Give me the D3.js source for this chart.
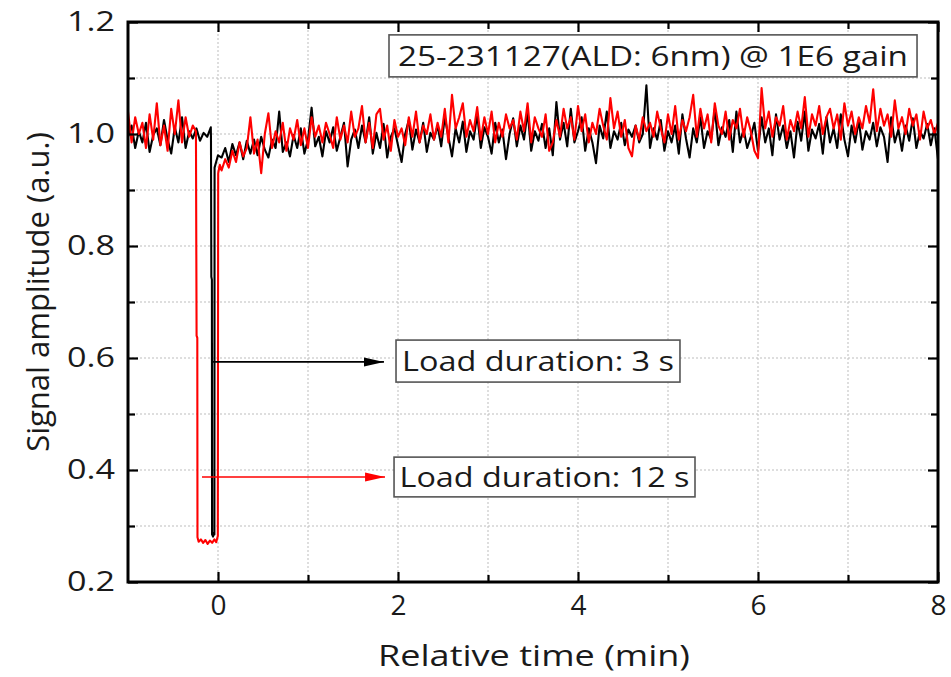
<!DOCTYPE html>
<html><head><meta charset="utf-8">
<script src="https://cdn.jsdelivr.net/npm/d3@7"></script>
<style>body{margin:0;background:#fff}</style></head>
<body><svg id="c" width="951" height="677"></svg>
<script>
// ---- data ----
const sampleStep = 0.04;          // min between plotted samples
const preStart = -1.0;            // first sample time of the pre-load traces
const postStart = 0.04;           // first sample time after the load

const blackPre = [0.995,1.015,0.975,1.005,0.985,1.020,0.968,0.998,1.010,0.980,1.025,0.990,
  0.965,1.012,0.985,1.030,0.975,1.005,0.992,1.010,0.988,1.002,0.995,1.012];
const blackDip = [[-0.078,0.990],[-0.074,0.745],[-0.068,0.740],[-0.066,0.285],[-0.055,0.281],
  [-0.045,0.288],[-0.040,0.285],[-0.038,0.940],[0.0,0.962]];
const blackPost = [
  0.958,0.975,0.950,0.982,0.962,0.985,0.955,0.988,0.965,0.990,
  0.962,0.995,0.972,0.958,0.990,0.975,1.040,0.968,0.985,0.960,
  0.998,0.975,1.010,0.965,0.990,1.047,0.978,0.995,0.960,1.005,
  0.985,1.012,0.970,0.995,1.020,0.942,0.990,1.008,0.975,1.015,
  0.985,1.030,0.965,1.002,0.975,1.018,0.958,0.995,1.010,0.980,
  0.950,1.000,1.025,0.972,1.008,0.985,1.020,0.968,1.002,0.990,
  1.015,0.978,1.030,0.995,0.960,1.010,0.985,1.022,0.968,1.005,
  0.990,1.035,0.975,1.012,0.995,0.965,1.020,0.985,1.008,0.955,
  1.000,1.028,0.978,1.015,0.990,1.040,0.970,1.005,0.988,1.018,
  0.975,1.010,0.962,1.057,0.990,1.020,0.978,1.045,0.985,1.005,
  1.030,0.970,1.010,0.985,0.948,1.015,0.992,1.040,0.975,1.005,
  0.990,1.020,0.980,1.008,0.995,1.015,0.985,1.000,1.087,0.975,
  1.010,0.990,1.025,0.970,1.005,0.985,1.015,0.965,1.035,0.992,
  0.958,1.010,0.985,1.030,0.975,1.005,0.990,1.045,0.980,1.012,
  0.995,1.025,0.968,1.040,0.985,1.008,0.975,0.995,1.020,0.970,
  1.030,0.985,1.010,0.962,1.035,0.990,1.015,0.975,1.005,0.958,
  1.022,0.988,1.040,0.970,1.008,0.992,1.018,0.965,1.030,0.985,
  1.010,0.975,1.035,0.990,0.960,1.015,0.985,1.025,0.972,1.005,
  0.990,1.020,0.978,1.012,0.995,0.950,1.030,0.985,1.008,0.970,
  1.015,0.988,1.028,0.975,1.005,0.992,1.018,0.980,1.010,0.955];

const redPre = [1.040,0.985,1.030,1.000,1.020,0.975,1.035,0.990,1.055,0.980,1.015,0.970,
  1.045,1.000,1.060,0.985,1.030,0.995,1.015];
const redDip = [[-0.245,1.005],[-0.238,0.640],[-0.230,0.636],[-0.228,0.280],[-0.215,0.272],
  [-0.190,0.276],[-0.165,0.270],[-0.140,0.275],[-0.115,0.268],[-0.090,0.274],[-0.065,0.270],
  [-0.040,0.276],[-0.020,0.271],[-0.002,0.282],[0.002,0.930],[0.020,0.945]];
const redPost = [
  0.935,0.955,0.940,0.970,0.950,0.985,0.960,0.975,1.030,0.965,
  0.990,0.930,1.000,1.037,0.975,1.005,0.985,1.020,0.970,1.010,
  0.990,1.025,0.980,1.010,0.975,1.030,0.995,1.015,0.985,1.020,
  1.000,0.975,1.030,0.990,1.015,0.985,1.040,0.995,1.010,1.050,
  0.985,1.020,0.975,1.035,1.045,0.990,1.015,0.970,1.025,0.995,
  1.010,0.980,1.030,0.995,1.040,0.985,1.015,1.000,1.035,0.990,
  1.020,0.995,1.045,0.985,1.070,1.010,1.030,1.055,0.995,1.025,
  1.005,1.048,0.990,1.030,1.000,1.040,0.985,1.020,0.995,1.035,
  1.010,1.025,0.990,1.040,1.005,1.055,0.985,1.030,1.010,0.995,
  1.035,0.970,0.985,1.025,0.995,1.045,1.010,1.030,0.990,1.050,
  1.005,1.035,0.985,1.020,1.000,1.045,1.015,0.990,1.064,1.010,
  1.040,0.995,1.025,0.975,0.960,1.015,0.990,1.030,1.005,1.020,
  0.995,1.040,1.010,0.985,1.035,1.000,1.050,0.990,1.025,1.005,
  1.030,1.070,0.995,1.045,1.010,1.035,0.985,1.055,1.015,1.000,
  1.040,0.990,1.025,1.010,1.045,0.995,1.030,1.005,0.970,0.957,
  1.082,1.010,1.040,0.995,1.030,1.015,1.050,0.990,1.025,1.005,
  1.040,1.010,1.066,0.995,1.035,1.015,1.050,1.000,1.030,1.045,
  1.010,1.035,0.990,1.055,1.015,1.040,1.000,1.030,1.010,1.050,
  1.020,1.080,1.005,1.045,1.015,1.035,0.995,1.060,1.010,1.030,
  1.000,1.045,1.015,1.035,0.990,1.040,1.010,1.025,1.000,1.020];

const xMajorTicks = [0,2,4,6,8];
const xMinorTicks = [1,3,5,7];
const yMajorTicks = [0.2,0.4,0.6,0.8,1.0,1.2];
const yMinorTicks = [0.3,0.5,0.7,0.9,1.1];
const xGridValues = [0,1,2,3,4,5,6,7];
const yGridValues = [0.3,0.4,0.5,0.6,0.7,0.8,0.9,1.0,1.1];

const titleText = "25-231127(ALD: 6nm) @ 1E6 gain";
const label3s = "Load duration: 3 s";
const label12s = "Load duration: 12 s";
const xTitle = "Relative time (min)";
const yTitle = "Signal amplitude (a.u.)";

// annotation anchors in data units: [x0, x1, yTop, yBottom]
const boxTitle = [1.90, 7.767, 1.177, 1.102];
const box3s = [1.978, 5.133, 0.632, 0.557];
const box12s = [1.956, 5.30, 0.423, 0.352];
const arrow3s = [[-0.056, 0.593],[1.844, 0.593]];
const arrow12s = [[-0.178, 0.3875],[1.856, 0.3875]];

// ---- build series ----
function series(pre, dip, post){
  const out = [];
  pre.forEach((v,i)=>out.push([preStart + i*sampleStep, v]));
  dip.forEach(d=>out.push(d));
  post.forEach((v,i)=>out.push([postStart + i*sampleStep, v]));
  return out;
}
const black = series(blackPre, blackDip, blackPost);
const red = series(redPre, redDip, redPost);

// ---- chart ----
const svg = d3.select("#c");
const L=128, R=938, T=22, B=582;
const x = d3.scaleLinear().domain([-1,8]).range([L,R]);
const y = d3.scaleLinear().domain([0.2,1.2]).range([B,T]);
const font = "'Open Sans', 'Liberation Sans', sans-serif";

// grid
const grid = svg.append("g").attr("stroke","#bdbdbd").attr("stroke-width",1).attr("stroke-dasharray","2,2");
grid.selectAll(".gx").data(xGridValues).join("line")
  .attr("x1",d=>x(d)).attr("x2",d=>x(d)).attr("y1",T).attr("y2",B);
grid.selectAll(".gy").data(yGridValues).join("line")
  .attr("x1",L).attr("x2",R).attr("y1",d=>y(d)).attr("y2",d=>y(d));

// traces
svg.append("defs").append("clipPath").attr("id","clip")
  .append("rect").attr("x",L).attr("y",T).attr("width",R-L).attr("height",B-T);
const line = d3.line().x(d=>x(d[0])).y(d=>y(d[1]));
const traces = svg.append("g").attr("clip-path","url(#clip)");
traces.append("path").datum(black).attr("d",line).attr("fill","none")
  .attr("stroke","#000").attr("stroke-width",2.1).attr("stroke-linejoin","round");
traces.append("path").datum(red).attr("d",line).attr("fill","none")
  .attr("stroke","#ff0000").attr("stroke-width",2.1).attr("stroke-linejoin","round");

// axes
function styleAxis(g){ g.select(".domain").remove(); g.selectAll("line").attr("stroke","#000").attr("stroke-width",2.2); }
svg.append("g").attr("transform",`translate(0,${B})`)
  .call(d3.axisBottom(x).tickValues(xMajorTicks).tickSizeInner(-10).tickSizeOuter(0).tickPadding(13).tickFormat(d3.format("d")))
  .call(styleAxis)
  .call(g=>g.selectAll("text").attr("font-family",font).attr("font-size",28).attr("fill","#1a1a1a"));
svg.append("g").attr("transform",`translate(0,${B})`)
  .call(d3.axisBottom(x).tickValues(xMinorTicks).tickSizeInner(-7).tickSizeOuter(0).tickFormat(""))
  .call(styleAxis);
svg.append("g").attr("transform",`translate(0,${T})`)
  .call(d3.axisTop(x).tickValues(xMajorTicks).tickSizeInner(-10).tickSizeOuter(0).tickFormat(""))
  .call(styleAxis);
svg.append("g").attr("transform",`translate(0,${T})`)
  .call(d3.axisTop(x).tickValues(xMinorTicks).tickSizeInner(-7).tickSizeOuter(0).tickFormat(""))
  .call(styleAxis);
svg.append("g").attr("transform",`translate(${L},0)`)
  .call(d3.axisLeft(y).tickValues(yMajorTicks).tickSizeInner(-10).tickSizeOuter(0).tickPadding(13).tickFormat(d3.format(".1f")))
  .call(styleAxis)
  .call(g=>g.selectAll("text").attr("font-family",font).attr("font-size",28).attr("fill","#1a1a1a")
     .attr("textLength",48).attr("lengthAdjust","spacingAndGlyphs"));
svg.append("g").attr("transform",`translate(${L},0)`)
  .call(d3.axisLeft(y).tickValues(yMinorTicks).tickSizeInner(-7).tickSizeOuter(0).tickFormat(""))
  .call(styleAxis);
svg.append("g").attr("transform",`translate(${R},0)`)
  .call(d3.axisRight(y).tickValues(yMajorTicks).tickSizeInner(-10).tickSizeOuter(0).tickFormat(""))
  .call(styleAxis);
svg.append("g").attr("transform",`translate(${R},0)`)
  .call(d3.axisRight(y).tickValues(yMinorTicks).tickSizeInner(-7).tickSizeOuter(0).tickFormat(""))
  .call(styleAxis);

// frame
svg.append("rect").attr("x",L).attr("y",T).attr("width",R-L).attr("height",B-T)
  .attr("fill","none").attr("stroke","#000").attr("stroke-width",3);

// axis titles
svg.append("text").attr("x",534).attr("y",666).attr("text-anchor","middle")
  .attr("font-family",font).attr("font-size",29).attr("fill","#1a1a1a")
  .attr("textLength",312).attr("lengthAdjust","spacingAndGlyphs").text(xTitle);
svg.append("text").attr("transform",`translate(49,${292}) rotate(-90)`).attr("text-anchor","middle")
  .attr("font-family",font).attr("font-size",31).attr("fill","#1a1a1a").text(yTitle);

// annotation boxes
function box(b, txt, tlen){
  const g = svg.append("g");
  g.append("rect").attr("x",x(b[0])).attr("y",y(b[2])).attr("width",x(b[1])-x(b[0])).attr("height",y(b[3])-y(b[2]))
    .attr("fill","#fff").attr("stroke","#555").attr("stroke-width",1.6);
  const cy = (y(b[2])+y(b[3]))/2;
  g.append("text").attr("x",(x(b[0])+x(b[1]))/2).attr("y",cy+10).attr("text-anchor","middle")
    .attr("font-family",font).attr("font-size",28).attr("fill","#1a1a1a")
    .attr("textLength",tlen).attr("lengthAdjust","spacingAndGlyphs").text(txt);
}
box(boxTitle, titleText, 510);
box(box3s, label3s, 272);
box(box12s, label12s, 290);

// arrows
const defs = svg.select("defs");
function marker(id,color){
  defs.append("marker").attr("id",id).attr("markerUnits","userSpaceOnUse")
    .attr("markerWidth",22).attr("markerHeight",12).attr("refX",20).attr("refY",6).attr("orient","auto")
    .append("path").attr("d","M0,1.5 L20,6 L0,10.5 Z").attr("fill",color);
}
marker("ab","#000"); marker("ar","#ff0000");
svg.append("line").attr("x1",x(arrow3s[0][0])).attr("y1",y(arrow3s[0][1])).attr("x2",x(arrow3s[1][0])).attr("y2",y(arrow3s[1][1]))
  .attr("stroke","#000").attr("stroke-width",1.6).attr("marker-end","url(#ab)");
svg.append("line").attr("x1",x(arrow12s[0][0])).attr("y1",y(arrow12s[0][1])).attr("x2",x(arrow12s[1][0])).attr("y2",y(arrow12s[1][1]))
  .attr("stroke","#ff0000").attr("stroke-width",1.6).attr("marker-end","url(#ar)");
</script></body></html>
